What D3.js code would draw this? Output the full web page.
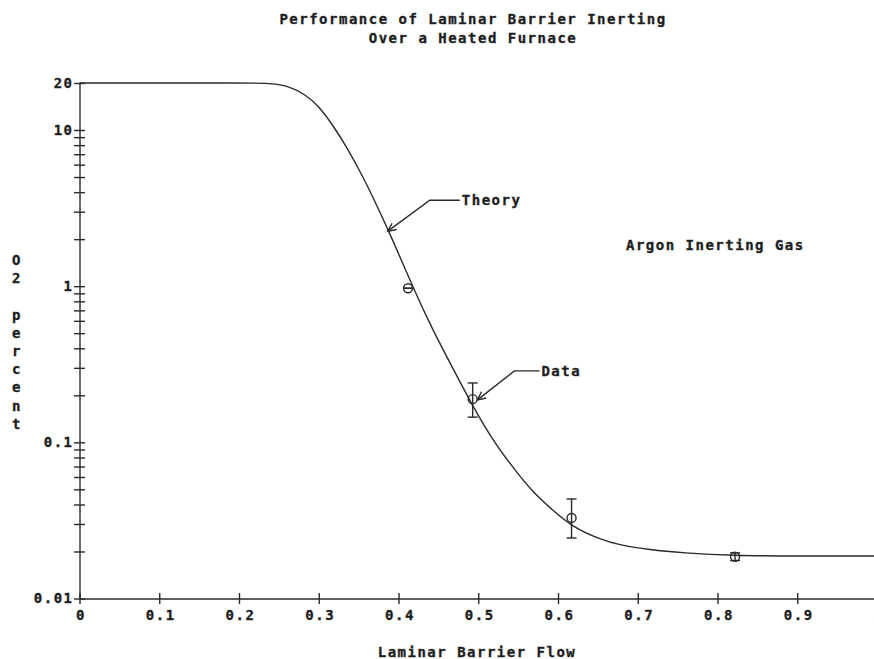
<!DOCTYPE html>
<html>
<head>
<meta charset="utf-8">
<script src="https://cdn.jsdelivr.net/npm/d3@7"></script>
<style>
  body { margin: 0; background: #fff; }
  svg text { font-family: "DejaVu Sans Mono", monospace; font-weight: bold; fill: #1e1e1e; stroke: #1e1e1e; stroke-width: 0.35px; font-size: 14px; letter-spacing: 1.5px; }
  .ln { stroke: #2a2a2a; stroke-width: 1.4; fill: none; }
</style>
</head>
<body>
<div id="app"></div>
<script>
// theory curve
const theoryX = [0, 0.1, 0.2, 0.235, 0.26, 0.285, 0.301, 0.318, 0.335, 0.351, 0.368, 0.393, 0.419, 0.443, 0.468, 0.493, 0.518, 0.543, 0.568, 0.593, 0.618, 0.652, 0.677, 0.715, 0.756, 0.819, 0.9, 1.0]
const theoryY = [20, 20, 20, 20, 19.4, 16.7, 14.0, 10.7, 7.77, 5.54, 3.72, 1.97, 0.958, 0.523, 0.299, 0.171, 0.1035, 0.0695, 0.0481, 0.0369, 0.0287, 0.0240, 0.0220, 0.0205, 0.0196, 0.0188, 0.0187, 0.0187]

// measured points with error bars
const dataX  = [0.412, 0.493, 0.617, 0.822]
const dataY  = [0.97, 0.189, 0.0328, 0.0185]
const dataLo = [0.97, 0.145, 0.0244, 0.0175]
const dataHi = [0.97, 0.240, 0.0434, 0.0196]

const xTicks = [0, 0.1, 0.2, 0.3, 0.4, 0.5, 0.6, 0.7, 0.8, 0.9, 1]
const yLabelled = [0.01, 0.1, 1, 10, 20]

const W = 874, H = 659

const svg = d3.select('#app').append('svg')
  .attr('width', W).attr('height', H)

const x = d3.scaleLinear().domain([0, 1]).range([79.5, 877])
const y = d3.scaleLog().domain([0.01, 20]).range([598.5, 83])

// log ticks: 1..9 in every decade, then 10 and 20
const yTicks = y.ticks()

// x axis
const gx = svg.append('g')
  .attr('transform', `translate(0,${y(0.01)})`)
  .call(d3.axisBottom(x).tickValues(xTicks).tickSize(0).tickSizeOuter(0).tickPadding(12)
    .tickFormat(d => d === 0 ? '0' : d === 1 ? '1' : d.toFixed(1)))
gx.select('.domain').attr('class', 'ln')
gx.selectAll('.tick line').attr('class', 'ln').attr('y1', -5.5).attr('y2', 5.5)
gx.selectAll('.tick text').attr('font-family', null).attr('font-size', null).attr('dx', 1)

// y axis
const gy = svg.append('g')
  .attr('transform', `translate(${x(0)},0)`)
  .call(d3.axisLeft(y).tickValues(yTicks).tickSize(0).tickSizeOuter(0).tickPadding(6)
    .tickFormat(d => yLabelled.includes(d) ? String(d) : ''))
gy.select('.domain').attr('class', 'ln')
gy.selectAll('.tick line').attr('class', 'ln').attr('x1', -5.5).attr('x2', 5.5)
gy.selectAll('.tick text').attr('font-family', null).attr('font-size', null)

// theory curve
const line = d3.line()
  .x((d, i) => x(theoryX[i]))
  .y(d => y(d))
  .curve(d3.curveBasis)
svg.append('path').attr('class', 'ln').attr('d', line(theoryY))

// data points
const pts = svg.append('g')
dataX.forEach((dx, i) => {
  const cx = x(dx), cy = y(dataY[i])
  const top = y(dataHi[i]), bot = y(dataLo[i])
  pts.append('line').attr('class', 'ln').attr('x1', cx).attr('x2', cx).attr('y1', top).attr('y2', bot)
  pts.append('line').attr('class', 'ln').attr('x1', cx - 5).attr('x2', cx + 5).attr('y1', top).attr('y2', top)
  pts.append('line').attr('class', 'ln').attr('x1', cx - 5).attr('x2', cx + 5).attr('y1', bot).attr('y2', bot)
  pts.append('circle').attr('class', 'ln').attr('cx', cx).attr('cy', cy).attr('r', 4.5)
})

// leader annotations: tip in data units, leader in pixel offsets
function note(tx, ty, label, ex, ey, hx) {
  const px = x(tx), py = y(ty)
  const g = svg.append('g')
  g.append('path').attr('class', 'ln')
    .attr('d', `M${px},${py}L${px + ex},${py + ey}H${px + hx}`)
  const ang = Math.atan2(ey, ex)
  const a1 = ang + 0.45, a2 = ang - 0.45
  g.append('path').attr('class', 'ln')
    .attr('d', `M${px + 9 * Math.cos(a1)},${py + 9 * Math.sin(a1)}L${px},${py}L${px + 9 * Math.cos(a2)},${py + 9 * Math.sin(a2)}`)
  g.append('text').attr('x', px + hx + 2).attr('y', py + ey + 5).text(label)
}
note(0.3866, 2.25, 'Theory', 42, -31, 72)
note(0.499, 0.187, 'Data', 37, -29, 62)

svg.append('text').attr('x', 626).attr('y', 250).text('Argon Inerting Gas')

// titles
svg.append('text').attr('x', 473).attr('y', 24).attr('text-anchor', 'middle').text('Performance of Laminar Barrier Inerting')
svg.append('text').attr('x', 473).attr('y', 43).attr('text-anchor', 'middle').text('Over a Heated Furnace')

svg.append('text').attr('x', 477).attr('y', 657).attr('text-anchor', 'middle').text('Laminar Barrier Flow')

// stacked y label
const yl = svg.append('text').attr('text-anchor', 'middle')
Array.from('O2 percent').forEach((ch, i) => {
  yl.append('tspan').attr('x', 17).attr('y', 265 + i * 18.2).text(ch)
})
</script>
</body>
</html>
